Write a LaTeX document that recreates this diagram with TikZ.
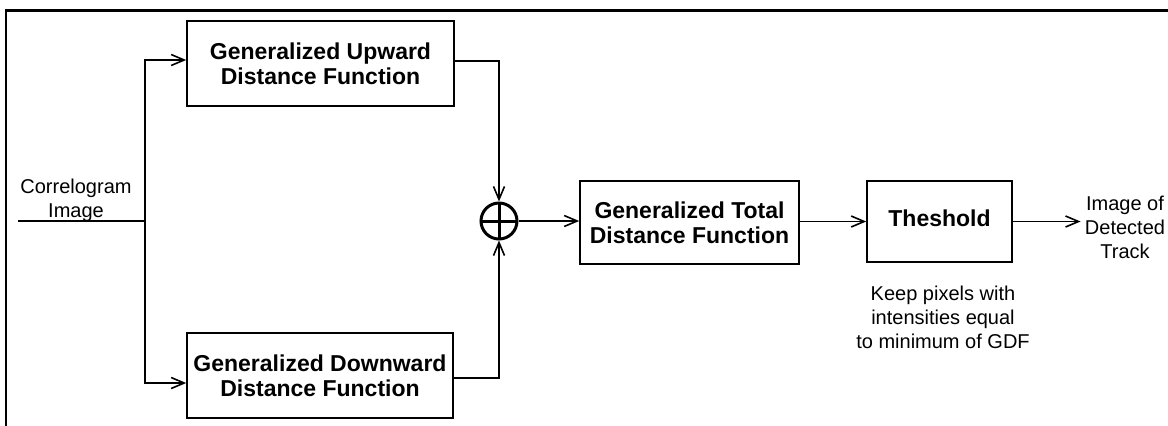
\documentclass[tikz,border=0pt]{standalone}
\usepackage{fontspec}
\setmainfont{Liberation Sans}
\usetikzlibrary{arrows.meta,positioning,calc}
\tikzset{
  >={Straight Barb[length=6.5pt,width=5.5pt]},
  block/.style={draw,line width=0.8pt,align=center,inner sep=1pt,
    font=\fontsize{11.5}{12.5}\selectfont\bfseries},
  label/.style={align=center,inner sep=2pt,font=\fontsize{10}{12}\selectfont},
  wire/.style={line width=0.8pt},
  adder/.style={draw,circle,line width=1.5pt,minimum size=18pt,inner sep=0pt,
    path picture={\draw[line width=1.5pt]
      (path picture bounding box.north) -- (path picture bounding box.south)
      (path picture bounding box.west) -- (path picture bounding box.east);}}
}
\begin{document}
\begin{tikzpicture}[x=0.5pt,y=-0.5pt]
\useasboundingbox (0,0) rectangle (1168,425);
% frame
\draw[line width=1.25pt] (6,430) -- (6,10.5) -- (1175,10.5);

% blocks
\node[block,minimum width=133.5pt,minimum height=42.5pt] (up) at (320.5,63.5)
  {Generalized Upward\\Distance Function};
\node[block,minimum width=133pt,minimum height=42.5pt] (down) at (320,375.5)
  {Generalized Downward\\Distance Function};
\node[adder] (sum) at (499,221) {};
\node[block,minimum width=109.5pt,minimum height=41.5pt] (total) at (689.5,222.5)
  {Generalized Total\\Distance Function};
\node[block,minimum width=72.5pt,minimum height=40.5pt,text depth=3pt] (thr) at (939.5,221.5)
  {Theshold};

% texts
\node[label] (in) at (76,200) {Correlogram\\Image};
\node[label] (out) at (1125,227) {Image of\\Detected\\Track};
\node[label] (note) at (943,317) {Keep pixels with\\intensities equal\\to minimum of GDF};

% connectors
\coordinate (src) at (18,221);
\coordinate (split) at (145,221);
\draw[wire] (src) -- (split);
\draw[wire,->] (split) |- ([yshift=1.75pt]up.west);
\draw[wire,->] (split) |- ([yshift=-3.75pt]down.west);
\draw[wire,->] ([yshift=1.25pt]up.east) -| (sum.north);
\draw[wire,->] ([yshift=-1.25pt]down.east) -| (sum.south);
\draw[wire,->] (sum.east) -- (sum.east -| total.west);
\draw[wire,->] (total.east |- thr.west) -- (thr.west);
\draw[wire,->] (thr.east) -- (thr.east -| out.west);
\end{tikzpicture}
\end{document}
